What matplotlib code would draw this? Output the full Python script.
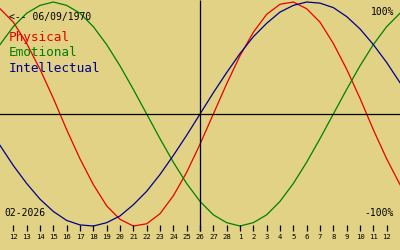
import matplotlib
matplotlib.use("Agg")
import matplotlib.pyplot as plt

# Biorhythm, birth 06/09/1970, centred on 26-02-2026
birth_label = "<-- 06/09/1970"
month_label = "02-2026"

# day offsets from the centre date (26 Feb)
days = list(range(-15, 16))

# values, one per day (-1 .. 1)
physical = [0.94, 0.82, 0.63, 0.40, 0.14, -0.14, -0.40, -0.63, -0.82, -0.94,
            -1.00, -0.98, -0.89, -0.73, -0.52, -0.27, 0.00, 0.27, 0.52, 0.73,
            0.89, 0.98, 1.00, 0.94, 0.82, 0.63, 0.40, 0.14, -0.14, -0.40, -0.63]
emotional = [0.62, 0.78, 0.90, 0.97, 1.00, 0.97, 0.90, 0.78, 0.62, 0.43,
             0.22, 0.00, -0.22, -0.43, -0.62, -0.78, -0.90, -0.97, -1.00, -0.97,
             -0.90, -0.78, -0.62, -0.43, -0.22, 0.00, 0.22, 0.43, 0.62, 0.78, 0.90]
intellectual = [-0.28, -0.46, -0.62, -0.76, -0.87, -0.95, -0.99, -1.00, -0.97, -0.91,
                -0.81, -0.69, -0.54, -0.37, -0.19, 0.00, 0.19, 0.37, 0.54, 0.69,
                0.81, 0.91, 0.97, 1.00, 0.99, 0.95, 0.87, 0.76, 0.62, 0.46, 0.28]

# tick labels (day of month), 12 Feb .. 12 Mar
tick_days = list(range(-14, 15))
tick_labels = ["12", "13", "14", "15", "16", "17", "18", "19", "20", "21", "22",
               "23", "24", "25", "26", "27", "28", "1", "2", "3", "4", "5", "6",
               "7", "8", "9", "10", "11", "12"]

series_names = ["Physical", "Emotional", "Intellectual"]
colors = ["#e80000", "#008000", "#00008c"]

bg = "#e1d285"
mono = "DejaVu Sans Mono"

fig = plt.figure(figsize=(4, 2.5), dpi=100)
fig.patch.set_facecolor(bg)
ax = fig.add_axes([0, 0, 1, 1])
ax.set_facecolor(bg)
ax.set_xlim(-15, 15)
ax.set_ylim(-1.214, 1.018)
ax.axis("off")

for vals, c in zip([physical, emotional, intellectual], colors):
    ax.plot(days, vals, color=c, lw=0.9)

# centre cross
ax.axhline(0, color="black", lw=0.9)
ax.vlines(0, 0.076, 1, color="black", lw=0.9, transform=ax.get_xaxis_transform())

# day ticks and labels along the bottom
ax.vlines(tick_days, 0.076, 0.1, color="black", lw=0.9,
          transform=ax.get_xaxis_transform())
for d, lab in zip(tick_days, tick_labels):
    ax.text(d, 0.051, lab, transform=ax.get_xaxis_transform(), ha="center",
            va="center", fontsize=5.2, family=mono, color="black")

# texts, positions in pixels from top-left
def px(x, y):
    return x / 400, 1 - y / 250

fig.text(*px(9, 17), birth_label, fontsize=7, family=mono, va="center")
for i, (name, c) in enumerate(zip(series_names, colors)):
    fig.text(*px(9, 38 + 15 * i), name, fontsize=9.2, family=mono, color=c,
             va="center")
fig.text(*px(394, 12), "100%", fontsize=7, family=mono, ha="right", va="center")
fig.text(*px(394, 213), "-100%", fontsize=7, family=mono, ha="right", va="center")
fig.text(*px(4, 213), month_label, fontsize=7, family=mono, va="center")

fig.savefig("out.png", dpi=100, facecolor=bg)
